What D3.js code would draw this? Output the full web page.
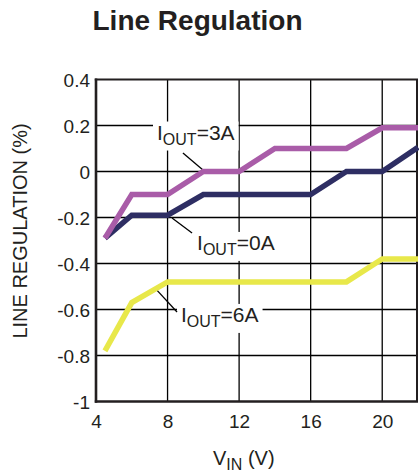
<!DOCTYPE html>
<html>
<head>
<meta charset="utf-8">
<script src="https://cdn.jsdelivr.net/npm/d3@7"></script>
<style>
  html, body { margin: 0; padding: 0; background: #fff; }
  svg { display: block; }
  text { font-family: "Liberation Sans", Arial, Helvetica, sans-serif; fill: #231f20; }
</style>
</head>
<body>
<svg id="chart" width="419" height="472"></svg>
<script>
// ---- data ----
const title = "Line Regulation";
const xTicks = [4, 8, 12, 16, 20];
const yTicks = [-1, -0.8, -0.6, -0.4, -0.2, 0, 0.2, 0.4];
const yTickLabels = ["-1", "-0.8", "-0.6", "-0.4", "-0.2", "0", "0.2", "0.4"];

const vin3A = [4.5, 6, 8, 10, 12, 14, 18, 20, 22];
const reg3A = [-0.29, -0.10, -0.10, 0.00, 0.00, 0.10, 0.10, 0.19, 0.19];

const vin0A = [4.5, 6, 8, 10, 16, 18, 20, 22];
const reg0A = [-0.29, -0.19, -0.19, -0.10, -0.10, 0.00, 0.00, 0.105];

const vin6A = [4.5, 6, 8, 18, 20, 22];
const reg6A = [-0.78, -0.57, -0.48, -0.48, -0.38, -0.38];

const seriesNames = ["3A", "0A", "6A"];
const seriesColors = ["#a95ca8", "#2e2e63", "#e8e84a"];

// annotation anchors (data units): text start, baseline, leader from/to
const labelX = [7.41, 9.65, 8.75];
const labelY = [0.139, -0.341, -0.654];
const leaderX1 = [8.86, 8.25, 7.30];
const leaderY1 = [0.080, -0.202, -0.507];
const leaderX2 = [9.98, 9.37, 8.53];
const leaderY2 = [0.007, -0.267, -0.611];

// ---- layout ----
const svg = d3.select("#chart");
const x = d3.scaleLinear().domain([4, 22]).range([96, 418]);
const y = d3.scaleLinear().domain([-1, 0.4]).range([401.5, 79.5]);

// title
svg.append("text").attr("x", 197.5).attr("y", 30)
  .attr("text-anchor", "middle").attr("font-size", 28).attr("font-weight", "bold")
  .text(title);

// grid
const g = svg.append("g");
g.selectAll(".vg").data(xTicks.filter(d => d > 4)).join("line")
  .attr("x1", d => x(d)).attr("x2", d => x(d))
  .attr("y1", y(0.4)).attr("y2", y(-1))
  .attr("stroke", "#000").attr("stroke-width", 1.3);
g.selectAll(".hg").data(yTicks.filter(d => d > -1 && d < 0.4)).join("line")
  .attr("x1", x(4)).attr("x2", x(22))
  .attr("y1", d => y(d)).attr("y2", d => y(d))
  .attr("stroke", "#000").attr("stroke-width", 1.3);

// annotations (white boxes behind labels, drawn above grid)
const ann = svg.append("g");
seriesNames.forEach((nm, i) => {
  const t = ann.append("text")
    .attr("x", x(labelX[i])).attr("y", y(labelY[i]))
    .attr("font-size", 21);
  t.append("tspan").text("I");
  t.append("tspan").attr("font-size", 16).attr("dy", 5).text("OUT");
  t.append("tspan").attr("dy", -5).text("=" + nm);
  const bb = t.node().getBBox();
  ann.insert("rect", "text")
    .attr("x", bb.x - 4).attr("y", bb.y + 1)
    .attr("width", bb.width + 8).attr("height", bb.height + 2)
    .attr("fill", "#fff");
  ann.append("line")
    .attr("x1", x(leaderX1[i])).attr("y1", y(leaderY1[i]))
    .attr("x2", x(leaderX2[i])).attr("y2", y(leaderY2[i]))
    .attr("stroke", "#000").attr("stroke-width", 1.3);
});

// frame
const fr = svg.append("g");
fr.append("line").attr("x1", x(4)).attr("x2", x(4)).attr("y1", y(0.4) - 1).attr("y2", y(-1) + 1.2)
  .attr("stroke", "#231f20").attr("stroke-width", 2.6);
fr.append("line").attr("x1", x(4) - 1.2).attr("x2", x(22)).attr("y1", y(-1)).attr("y2", y(-1))
  .attr("stroke", "#231f20").attr("stroke-width", 2.6);
fr.append("line").attr("x1", x(4) - 1.2).attr("x2", x(22)).attr("y1", y(0.4)).attr("y2", y(0.4))
  .attr("stroke", "#231f20").attr("stroke-width", 2.2);
fr.append("line").attr("x1", x(22) - 1).attr("x2", x(22) - 1).attr("y1", y(0.4)).attr("y2", y(-1))
  .attr("stroke", "#231f20").attr("stroke-width", 2);

// series lines
const line = d3.line().x(d => x(d[0])).y(d => y(d[1]));
const series = [
  d3.zip(vin0A, reg0A),
  d3.zip(vin3A, reg3A),
  d3.zip(vin6A, reg6A)
];
const order = [1, 0, 2]; // colors index for series array above
series.forEach((pts, k) => {
  svg.append("path").attr("d", line(pts))
    .attr("fill", "none")
    .attr("stroke", seriesColors[order[k]])
    .attr("stroke-width", 5.5)
    .attr("stroke-linejoin", "miter")
    .attr("stroke-linecap", "butt");
});

// axes tick labels via d3 axes
const xAxis = d3.axisBottom(x).tickValues(xTicks).tickSize(0).tickPadding(0).tickFormat(d3.format("d"));
const xa = svg.append("g").attr("transform", `translate(0,${y(-1) + 26.5})`).call(xAxis);
xa.select(".domain").remove();
xa.selectAll("text").attr("font-size", 19).attr("dy", 0).attr("fill", "#231f20")
  .style("font-family", "Liberation Sans, Arial, sans-serif");

const yAxis = d3.axisLeft(y).tickValues(yTicks).tickSize(0).tickPadding(0)
  .tickFormat((d, i) => yTickLabels[i]);
const ya = svg.append("g").attr("transform", `translate(${x(4) - 6},0)`).call(yAxis);
ya.select(".domain").remove();
ya.selectAll("text").attr("font-size", 19).attr("dy", "0.36em").attr("fill", "#231f20")
  .style("font-family", "Liberation Sans, Arial, sans-serif");

// axis titles
const xt = svg.append("text").attr("x", 213).attr("y", 465).attr("font-size", 20);
xt.append("tspan").text("V");
xt.append("tspan").attr("font-size", 16).attr("dy", 5).text("IN");
xt.append("tspan").attr("dy", -5).text(" (V)");

svg.append("text")
  .attr("transform", `translate(27,231) rotate(-90)`)
  .attr("text-anchor", "middle").attr("font-size", 20)
  .text("LINE REGULATION (%)");
</script>
</body>
</html>
